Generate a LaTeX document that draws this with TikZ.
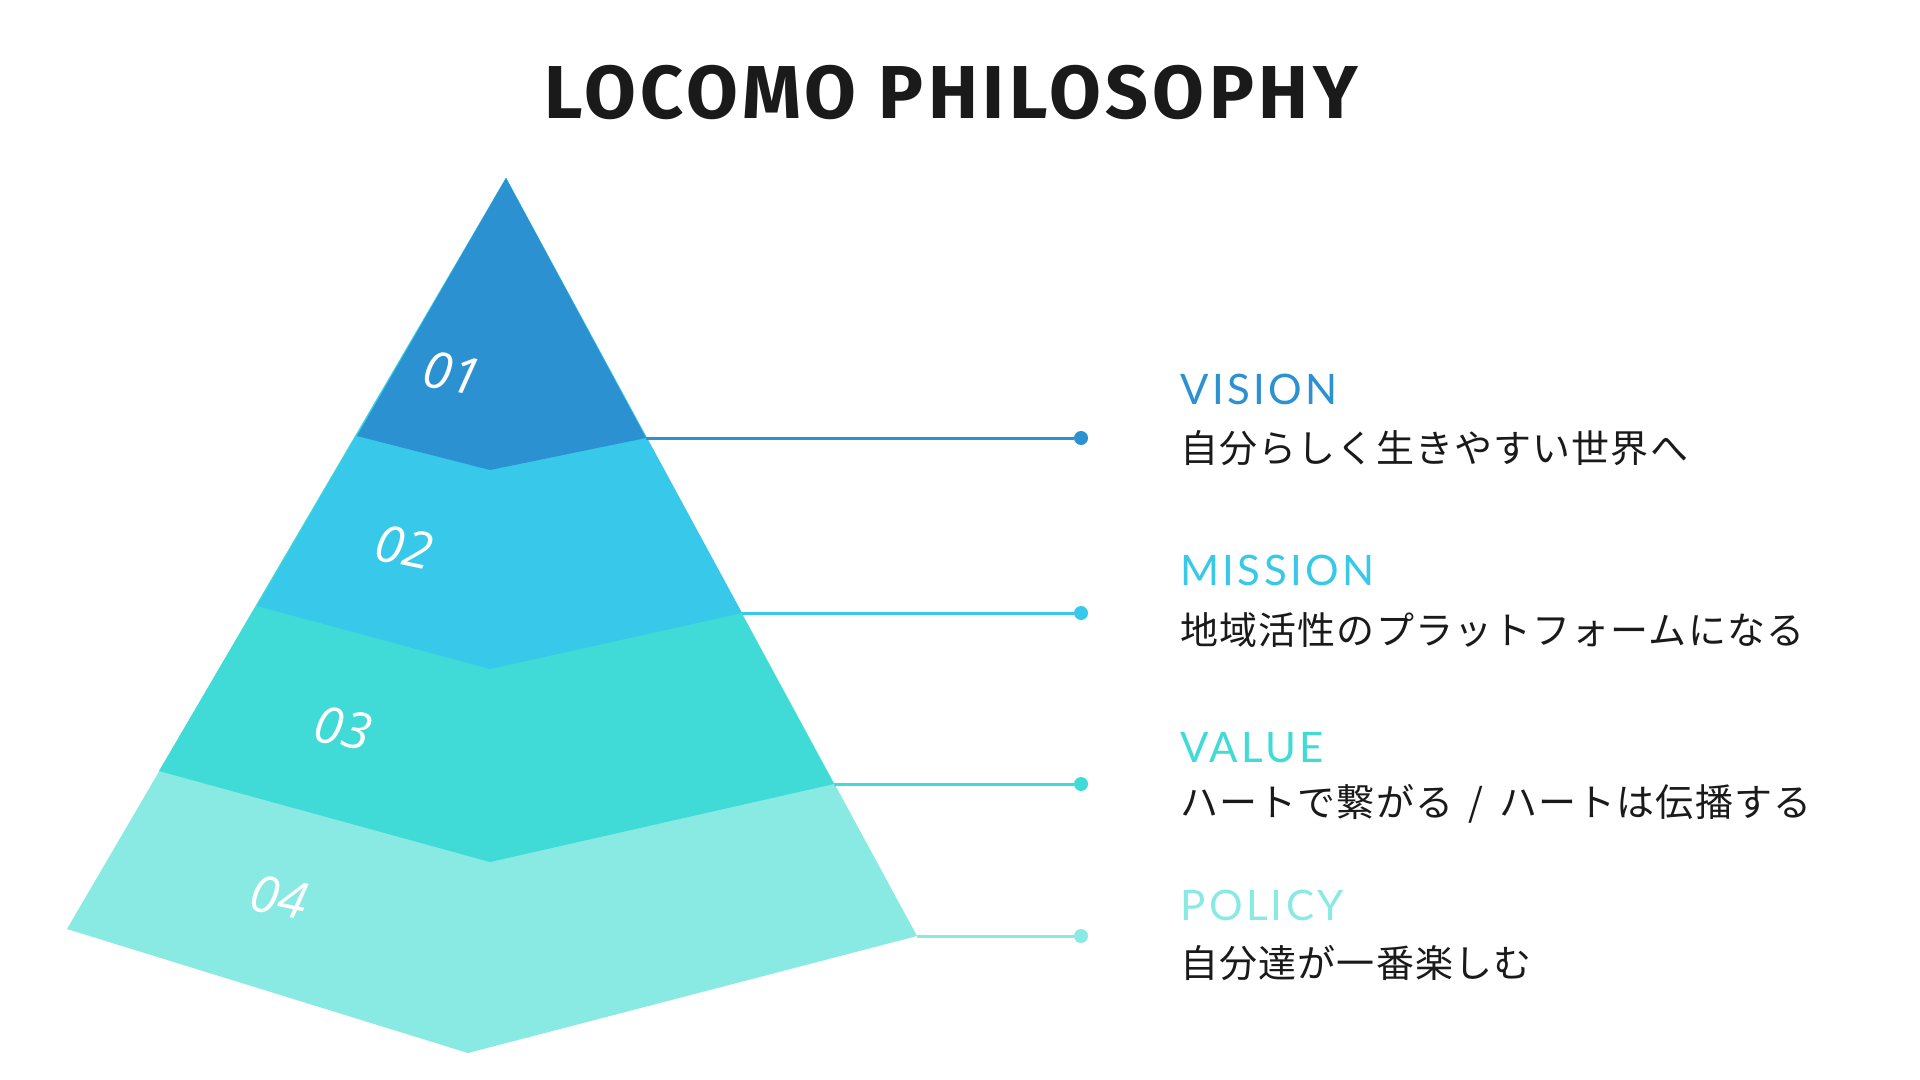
\documentclass[tikz,border=0pt]{standalone}
\usepackage{fontspec}
\setmainfont{Fira Sans}
\newfontfamily\titlefont{Fira Sans}[LetterSpace=6]
\newfontfamily\headfont{Lato}[LetterSpace=8]
\newfontfamily\numfont{Open Sans}
\newfontfamily\jpfont{Noto Sans CJK JP}[LetterSpace=3]

\definecolor{tierone}{HTML}{2B91D0}
\definecolor{tiertwo}{HTML}{38C8EA}
\definecolor{tierthree}{HTML}{40DBD6}
\definecolor{tierfour}{HTML}{88EAE3}
\definecolor{inkdark}{HTML}{1A1A1A}

\tikzset{
  tiernum/.style={text=white, inner sep=0pt, rotate=-12,
    font=\numfont\itshape\fontsize{25.5}{25.5}\selectfont},
  headlabel/.style={anchor=base west, inner sep=0pt,
    font=\headfont\fontsize{21}{21}\selectfont},
  textlabel/.style={anchor=west, inner sep=0pt, text=inkdark,
    font=\jpfont\fontsize{19}{19}\selectfont},
  enddot/.style={circle, inner sep=0pt, minimum size=7pt},
  leader/.style={line width=1.5pt}
}

\begin{document}
\begin{tikzpicture}[x=0.5pt,y=-0.5pt]
\useasboundingbox[fill=white] (0,0) rectangle (1920,1080);

% Title
\node[anchor=base, inner sep=0pt, text=inkdark,
  font=\titlefont\bfseries\fontsize{37.5}{40}\selectfont] (title) at (951,119) {LOCOMO PHILOSOPHY};

% Pyramid corners
\coordinate (apex) at (506,178);
\coordinate (l1) at (357,436); \coordinate (m1) at (490,470); \coordinate (r1) at (646,438);
\coordinate (l2) at (257,606); \coordinate (m2) at (490,669); \coordinate (r2) at (742,613);
\coordinate (l3) at (159,771); \coordinate (m3) at (490,862); \coordinate (r3) at (834,784);
\coordinate (l4) at (67,929);  \coordinate (m4) at (468,1053); \coordinate (r4) at (917,936);

% Tiers, largest first so they overlap
\fill[tierfour]  (apex) -- (r4) -- (m4) -- (l4) -- cycle;
\fill[tierthree] (apex) -- (r3) -- (m3) -- (l3) -- cycle;
\fill[tiertwo]   (apex) -- (r2) -- (m2) -- (l2) -- cycle;
\fill[tierone]   (apex) -- (r1) -- (m1) -- (l1) -- cycle;

\node[tiernum] (n1) at (452,373) {01};
\node[tiernum] (n2) at (404,547) {02};
\node[tiernum] (n3) at (343,728) {03};
\node[tiernum] (n4) at (279,897) {04};

% Leaders
\node[enddot, fill=tierone]   (d1) at (1081,438) {};
\node[enddot, fill=tiertwo]   (d2) at (1081,613) {};
\node[enddot, fill=tierthree] (d3) at (1081,784) {};
\node[enddot, fill=tierfour]  (d4) at (1081,936) {};
\draw[leader, tierone]   (r1) -- (d1);
\draw[leader, tiertwo]   (r2) -- (d2);
\draw[leader, tierthree] (r3) -- (d3);
\draw[leader, tierfour]  (r4) -- (d4);

% Labels
\node[headlabel, text=tierone]   (vision)  at (1180,404) {VISION};
\node[textlabel] (visiontxt)  at (1180,448) {自分らしく生きやすい世界へ};
\node[headlabel, text=tiertwo]   (mission) at (1180,585) {MISSION};
\node[textlabel] (missiontxt) at (1180,630) {地域活性のプラットフォームになる};
\node[headlabel, text=tierthree] (value)   at (1180,762) {VALUE};
\node[textlabel] (valuetxt)   at (1180,804) {ハートで繋がる\hspace{3pt} / \hspace{3pt}ハートは伝播する};
\node[headlabel, text=tierfour]  (policy)  at (1180,920) {POLICY};
\node[textlabel] (policytxt)  at (1180,963) {自分達が一番楽しむ};
\end{tikzpicture}
\end{document}
